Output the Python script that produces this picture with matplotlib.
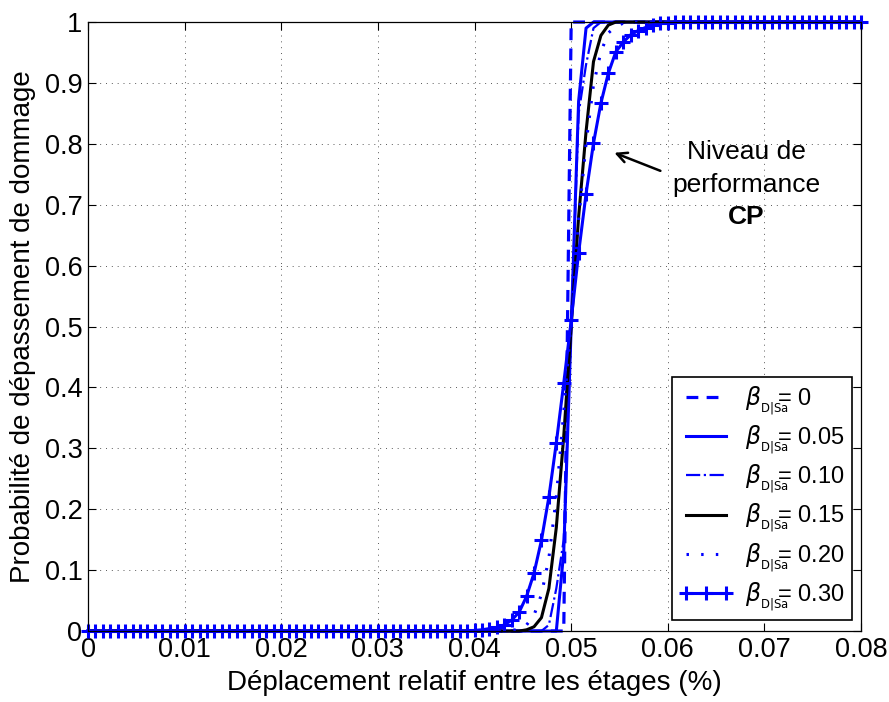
import numpy as np
import matplotlib
matplotlib.use("Agg")
import matplotlib.pyplot as plt

plt.rcParams['font.family'] = ['Liberation Sans', 'DejaVu Sans']
plt.rcParams['mathtext.fontset'] = 'dejavusans'

# sample grid of the curves (0.05 falls on point 65)
x = np.linspace(0, 0.08, 105)
n = len(x)

def pad(start, vals):
    # zeros before the values read in the transition zone, ones after
    return [0.0] * start + list(vals) + [1.0] * (n - start - len(vals))

b000 = pad(64, [0.0, 1.0])
b005 = pad(63, [0.0, 0.13, 0.50, 0.87, 0.99])
b010 = pad(61, [0.0, 0.01, 0.07, 0.15, 0.50, 0.85, 0.93, 0.99])
b015 = pad(59, [0.002, 0.007, 0.022, 0.07, 0.17, 0.32, 0.50, 0.68, 0.82, 0.935,
                0.978, 0.995])
b020 = pad(57, [0.001, 0.003, 0.01, 0.026, 0.06, 0.12, 0.22, 0.36, 0.51, 0.676,
                0.80, 0.897, 0.951, 0.982, 0.993, 0.998])
b030 = pad(52, [0.001, 0.002, 0.004, 0.006, 0.010, 0.018, 0.031, 0.057, 0.095,
                0.149, 0.22, 0.309, 0.407, 0.51, 0.621, 0.718, 0.801, 0.867,
                0.916, 0.951, 0.967, 0.979, 0.986, 0.991, 0.995, 0.998, 0.999])

labels = ['0', '0.05', '0.10', '0.15', '0.20', '0.30']
xticks = [0, 0.01, 0.02, 0.03, 0.04, 0.05, 0.06, 0.07, 0.08]
xticklabels = ['0', '0.01', '0.02', '0.03', '0.04', '0.05', '0.06', '0.07', '0.08']
yticks = [0, 0.1, 0.2, 0.3, 0.4, 0.5, 0.6, 0.7, 0.8, 0.9, 1]
yticklabels = ['0', '0.1', '0.2', '0.3', '0.4', '0.5', '0.6', '0.7', '0.8', '0.9', '1']

fig = plt.figure(figsize=(8.89, 7.02), dpi=100)
ax = fig.add_axes([0.099, 0.1011, 0.8696, 0.8675])

leg = lambda s: r'$\beta_{_{\mathrm{D|Sa}}}\!\!\!$= ' + s

ax.plot(x, b000, color='blue', lw=2.3, ls=(0, (3.7, 2.6)), label=leg(labels[0]),
        clip_on=False)
ax.plot(x, b005, color='blue', lw=2.2, ls='-', label=leg(labels[1]), clip_on=False)
ax.plot(x, b010, color='blue', lw=1.6, ls='-.', label=leg(labels[2]), clip_on=False)
ax.plot(x, b015, color='black', lw=2.2, ls='-', label=leg(labels[3]), clip_on=False)
ax.plot(x, b020, color='blue', lw=2.2, ls=(0, (0.8, 4)), label=leg(labels[4]),
        clip_on=False)
ax.plot(x, b030, color='blue', lw=2.2, ls='-', marker='+', ms=10, mew=2.2,
        label=leg(labels[5]), clip_on=False)

ax.set_xlim(0, 0.08)
ax.set_ylim(0, 1)
ax.set_xticks(xticks)
ax.set_xticklabels(xticklabels)
ax.set_yticks(yticks)
ax.set_yticklabels(yticklabels)
ax.tick_params(direction='in', top=True, right=True, length=6, width=0.8,
               labelsize=19.5, pad=4)
ax.grid(True, color='0.35', ls=(0, (1, 5)), lw=0.7)
for s in ax.spines.values():
    s.set_linewidth(0.9)

ax.set_xlabel('Déplacement relatif entre les étages (%)', fontsize=20, labelpad=5)
ax.set_ylabel('Probabilité de dépassement de dommage', fontsize=20, labelpad=6)

ax.annotate('', xy=(0.0542, 0.787), xytext=(0.0595, 0.754),
            arrowprops=dict(arrowstyle='->', color='black', lw=1.8,
                            mutation_scale=18))
ax.text(0.0681, 0.7865, 'Niveau de', fontsize=19, ha='center', va='center')
ax.text(0.0681, 0.7323, 'performance', fontsize=19, ha='center', va='center')
ax.text(0.0681, 0.6798, 'CP', fontsize=19, fontweight='bold', ha='center',
        va='center')

lg = ax.legend(loc='lower right', fontsize=17, frameon=True, fancybox=False,
               edgecolor='black', framealpha=1, handlelength=2.3,
               labelspacing=0.3, borderpad=0.3, handletextpad=0.5,
               borderaxespad=0, bbox_to_anchor=(0.988, 0.018), numpoints=3)
lg.get_frame().set_linewidth(1.2)

fig.savefig('out.png', dpi=100)
